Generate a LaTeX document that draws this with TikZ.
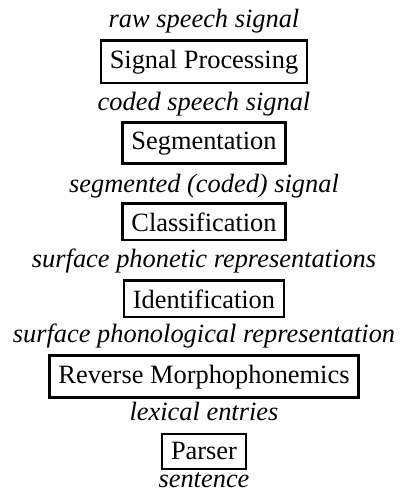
\documentclass[tikz,border=0pt]{standalone}
\usepackage{fontspec}
\setmainfont{Liberation Serif}
\usepackage{tikz}

\begin{document}
\begin{tikzpicture}[x=1pt,y=1pt,
        every node/.style={anchor=base,inner sep=0,font=\fontsize{13.2}{15.8}\selectfont},
        proc/.style={draw,line width=1.2pt,inner sep=4.5pt},
        data/.style={font=\fontsize{13.2}{15.8}\selectfont\itshape}]
        \useasboundingbox (0,0) rectangle (200,247.5);
        \node[data] (raw) at (102,234) {raw speech signal};
        \node[proc] (sigproc) at (102,213.5) {Signal Processing};
        \node[data] (coded) at (102,192.5) {coded speech signal};
        \node[proc] (segm) at (102,173) {Segmentation};
        \node[data] (segmented) at (102,151.5) {segmented (coded) signal};
        \node[proc] (classif) at (102,132) {Classification};
        \node[data] (phonetic) at (102,114) {surface phonetic representations};
        \node[proc] (ident) at (102,93.5) {Identification};
        \node[data] (phonological) at (102,76.5) {surface phonological representation};
        \node[proc] (revmorph) at (102,56) {Reverse Morphophonemics};
        \node[data] (lexical) at (102,37.5) {lexical entries};
        \node[proc] (parser) at (102,17.5) {Parser};
        \node[data] (sentence) at (102,3.5) {sentence};
      \end{tikzpicture}
\end{document}
